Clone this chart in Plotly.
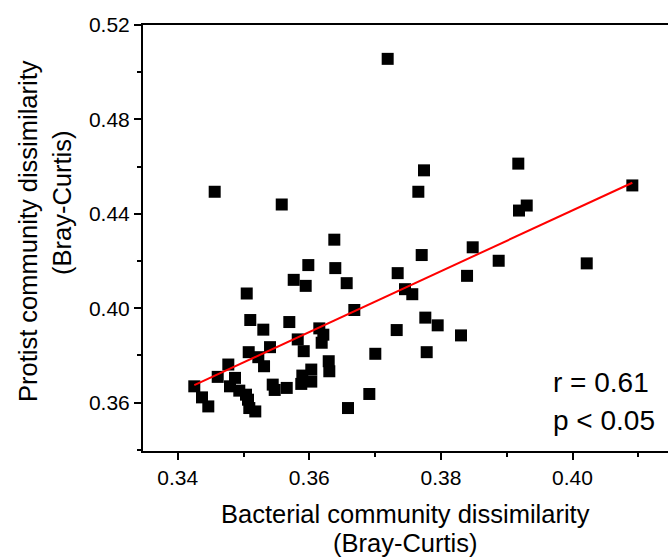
import plotly.graph_objects as go
import numpy as np

# Bacterial (x) vs protist (y) Bray-Curtis dissimilarity
bacterial = [
    0.37191, 0.34562, 0.35581, 0.36380, 0.37743, 0.37657, 0.39176, 0.39304,
    0.39187, 0.40909, 0.37708, 0.38483, 0.38878, 0.38397, 0.40216, 0.37454,
    0.37565, 0.37763, 0.37951, 0.38305, 0.37784, 0.37343, 0.35985, 0.36395,
    0.35763, 0.35945, 0.36568, 0.35049, 0.36684, 0.35103, 0.35696, 0.35301,
    0.36152, 0.36213, 0.35824, 0.36188, 0.35403, 0.37328, 0.35079, 0.35915,
    0.35225, 0.37003, 0.34769, 0.35312, 0.36295, 0.36304, 0.36030, 0.34608,
    0.34871, 0.35894, 0.34252, 0.34795, 0.35444, 0.35657, 0.35474, 0.36030,
    0.35878, 0.34936, 0.34369, 0.35038, 0.35068, 0.34465, 0.35088, 0.35179,
    0.36588, 0.36912,
]
protist = [
    0.50566, 0.44936, 0.44396, 0.42906, 0.45843, 0.44936, 0.46128, 0.44353,
    0.44140, 0.45204, 0.42255, 0.42583, 0.42013, 0.41374, 0.41902, 0.40809,
    0.40596, 0.39604, 0.39277, 0.38851, 0.38140, 0.41489, 0.41830, 0.41702,
    0.41204, 0.40949, 0.41064, 0.40626, 0.39928, 0.39502, 0.39417, 0.39094,
    0.39149, 0.38881, 0.38681, 0.38540, 0.38353, 0.39077, 0.38140, 0.38183,
    0.37928, 0.38072, 0.37617, 0.37545, 0.37757, 0.37332, 0.37404, 0.37094,
    0.37051, 0.37149, 0.36694, 0.36694, 0.36766, 0.36626, 0.36540, 0.36894,
    0.36796, 0.36511, 0.36226, 0.36340, 0.36128, 0.35843, 0.35774, 0.35630,
    0.35774, 0.36370,
]

# Linear fit line
fit_intercept = -0.07374
fit_slope = 1.288

x_range = [0.334726, 0.41451]
y_range = [0.33954, 0.52]
x_tick0, x_dtick, x_minor = 0.34, 0.02, 0.01
y_tick0, y_dtick, y_minor = 0.36, 0.04, 0.02

stat_lines = ["r = 0.61", "p < 0.05"]
x_title = ["Bacterial community dissimilarity", "(Bray-Curtis)"]
y_title = ["Protist community dissimilarity", "(Bray-Curtis)"]

W, H = 668, 557
L, R, T, B = 143, 0, 25, 106
pw, ph = W - L - R, H - T - B

def px2paper(px, py):
    return (px - L) / pw, (H - B - py) / ph

FONT = "Liberation Sans, Arial, sans-serif"

fig = go.Figure()
fig.add_trace(go.Scatter(
    x=bacterial, y=protist, mode="markers",
    marker=dict(symbol="square", size=12, color="black", line=dict(width=0)),
    showlegend=False,
))
fx = np.array([min(bacterial), max(bacterial)])
fig.add_trace(go.Scatter(
    x=fx, y=fit_intercept + fit_slope * fx, mode="lines",
    line=dict(color="#ff0000", width=2), showlegend=False,
))

axis_common = dict(
    showgrid=False, zeroline=False, showline=True, linecolor="black",
    linewidth=2, ticks="outside", ticklen=7, tickwidth=1.5, tickcolor="black",
    tickfont=dict(family=FONT, size=21, color="black"), tickformat=".2f",
    tickmode="linear",
)
fig.update_xaxes(
    range=x_range, tick0=x_tick0, dtick=x_dtick, mirror=True,
    minor=dict(dtick=x_minor, tick0=x_tick0, ticks="outside", ticklen=4,
               tickwidth=1.5, tickcolor="black", showgrid=False),
    **axis_common,
)
fig.update_yaxes(
    range=y_range, tick0=y_tick0, dtick=y_dtick,
    minor=dict(dtick=y_minor, tick0=y_tick0, ticks="outside", ticklen=4,
               tickwidth=1.5, tickcolor="black", showgrid=False),
    **axis_common,
)

annots = []
# x title lines
for txt, py in zip(x_title, [514, 543]):
    ax, ay = px2paper(405, py)
    annots.append(dict(text=txt, x=ax, y=ay, xref="paper", yref="paper",
                       xanchor="center", yanchor="middle", showarrow=False,
                       font=dict(family=FONT, size=25.5, color="black")))
# y title lines
for txt, (px, py) in zip(y_title, [(28, 231), (62, 203)]):
    ax, ay = px2paper(px, py)
    annots.append(dict(text=txt, x=ax, y=ay, xref="paper", yref="paper",
                       xanchor="center", yanchor="middle", showarrow=False,
                       textangle=-90,
                       font=dict(family=FONT, size=25.5, color="black")))
# statistics
for txt, py in zip(stat_lines, [382, 420]):
    ax, ay = px2paper(551, py)
    annots.append(dict(text=txt, x=ax, y=ay, xref="paper", yref="paper",
                       xanchor="left", yanchor="middle", showarrow=False,
                       font=dict(family=FONT, size=28, color="black")))

fig.update_layout(
    width=W, height=H, margin=dict(l=L, r=R, t=T, b=B),
    plot_bgcolor="white", paper_bgcolor="white", annotations=annots,
    showlegend=False,
)
fig.write_html(
    "out.html",
    config={"displayModeBar": False},
    post_script="document.body.style.margin='0';document.body.style.overflow='hidden';",
)
